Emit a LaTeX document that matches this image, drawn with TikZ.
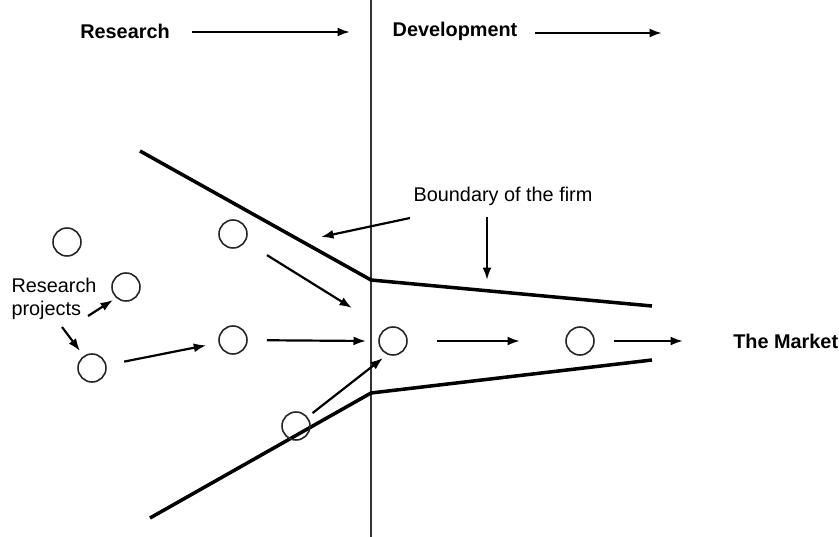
\documentclass[tikz,border=0pt]{standalone}
\usepackage{fontspec}
\setmainfont{Liberation Sans}
\usetikzlibrary{arrows.meta}
\begin{document}
\begin{tikzpicture}[x=0.02cm,y=-0.02cm,
  proj/.style={circle,draw=black!85,line width=0.9pt,minimum size=0.56cm,inner sep=0pt},
  arr/.style={line width=1.25pt,-{Latex[length=2.5mm,width=1.8mm]}},
  bound/.style={line width=2pt,line join=round},
  head/.style={font=\fontsize{11.3}{13}\selectfont\bfseries},
  lab/.style={font=\fontsize{11.3}{13}\selectfont,align=left}]
\useasboundingbox (0,0) rectangle (839,537);
% divider
\coordinate (vtop) at (371,0);
\coordinate (vbot) at (371,537);
\draw[line width=0.9pt,black!80] (vtop) -- (vbot);
% headings
\node[head] (research) at (125,31) {Research};
\node[head] (devel) at (455,31) {Development};
\coordinate (ra1) at (192,32); \coordinate (ra2) at (350,32);
\coordinate (da1) at (535,33); \coordinate (da2) at (662,33);
\draw[arr] (ra1) -- (ra2);
\draw[arr] (da1) -- (da2);
% boundary
\coordinate (u1) at (140,151); \coordinate (u2) at (371,280); \coordinate (u3) at (652,306);
\coordinate (l1) at (150,518); \coordinate (l2) at (371,393); \coordinate (l3) at (652,360);
\draw[bound] (u1) -- (u2) -- (u3);
\draw[bound] (l1) -- (l2) -- (l3);
% projects
\node[proj] (p1) at (67,242) {};
\node[proj] (p2) at (126,287) {};
\node[proj] (p3) at (92,368) {};
\node[proj] (a1) at (233,234) {};
\node[proj] (a2) at (233,340) {};
\node[proj] (a3) at (296,426) {};
\node[proj] (d1) at (393,341) {};
\node[proj] (d2) at (580,341) {};
% labels
\node[lab,inner sep=0pt] (rp) at (54,299) {Research\\projects};
\node[lab,inner sep=0pt] (bf) at (503,196) {Boundary of the firm};
\node[head,anchor=west,inner sep=0pt] (market) at (733,341) {The Market};
% label arrows
\coordinate (rpa) at (88,316); \coordinate (rpb) at (113,300);
\coordinate (rpc) at (62,327); \coordinate (rpd) at (80,351);
\draw[arr] (rpa) -- (rpb);
\draw[arr] (rpc) -- (rpd);
\coordinate (bfa) at (410,218); \coordinate (bfb) at (321,237);
\coordinate (bfc) at (487,217); \coordinate (bfd) at (487,280);
\draw[arr] (bfa) -- (bfb);
\draw[arr] (bfc) -- (bfd);
% flow arrows
\coordinate (e1) at (352,308);
\coordinate (e2) at (366,341);
\coordinate (e3) at (383,358);
\draw[arr,shorten <=0.36cm,shorten >=0.25cm] (p3) -- (a2);
\draw[arr,shorten <=0.68cm] (a2.center) -- (e2);
\draw[arr,shorten <=0.8cm] (a1.center) -- (e1);
\draw[arr,shorten <=0.42cm] (a3.center) -- (e3);
\draw[arr,shorten <=0.88cm,shorten >=1.2cm] (d1.center) -- (d2.center);
\draw[arr,shorten <=0.68cm,shorten >=1cm] (d2.center) -- (market.west);
\end{tikzpicture}
\end{document}
